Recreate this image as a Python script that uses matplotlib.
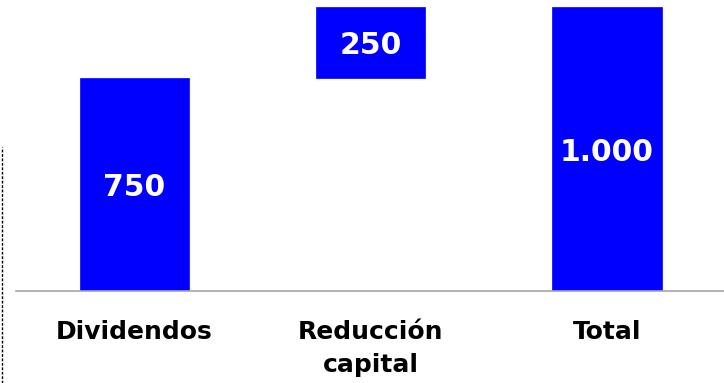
import matplotlib
matplotlib.use("Agg")
import matplotlib.pyplot as plt
from matplotlib.lines import Line2D

# ---- data ----
categories = ["Dividendos", "Reducción\ncapital", "Total"]
values = [750, 250, 1000]
is_total = [False, False, True]

BAR_COLOR = "#0000FF"

# waterfall bottoms
bottoms = []
running = 0
for v, t in zip(values, is_total):
    if t:
        bottoms.append(0)
        running = v
    else:
        bottoms.append(running)
        running += v

plt.rcParams['font.family'] = ['DejaVu Sans']

fig = plt.figure(figsize=(7.24, 3.83), dpi=100)
W, H = 724, 383
ax_left, ax_bottom = 16 / W, (H - 291) / H
ax = fig.add_axes([ax_left, ax_bottom, 1 - ax_left, 291 / H])

x = list(range(len(categories)))
ax.bar(x, values, bottom=bottoms, width=0.462, color=BAR_COLOR, edgecolor=BAR_COLOR,
       linewidth=0.5, zorder=2)

ax.set_xlim(-0.5016, 2.495)
ax.set_ylim(0, 1025)

for s in ["top", "right", "left"]:
    ax.spines[s].set_visible(False)
ax.spines["bottom"].set_color("#a6a6a6")
ax.spines["bottom"].set_linewidth(1.2)
ax.spines["bottom"].set_zorder(3)
ax.set_xticks([])
ax.set_yticks([])

# value labels
for xi, v, b in zip(x, values, bottoms):
    txt = f"{v:,}".replace(",", ".")
    ax.text(xi, b + v / 2, txt, ha="center", va="center_baseline",
            color="white", fontsize=21.5, fontweight="bold", zorder=4)

# category labels (multi-line drawn line by line)
line_offsets = [34.8, 58.1]
for xi, cat in zip(x, categories):
    for li, line in enumerate(cat.split("\n")):
        ax.annotate(line, xy=(xi, 0), xycoords=("data", "axes fraction"),
                    xytext=(0, -line_offsets[li]), textcoords="offset points",
                    ha="center", va="baseline", fontsize=18, fontweight="bold",
                    color="black", annotation_clip=False)

# dashed left border fragment
fig.add_artist(Line2D([1.5 / W, 1.5 / W], [0, (H - 147) / H], transform=fig.transFigure,
                      color="black", linewidth=1.0, linestyle=(0, (2.0, 1.2))))

fig.savefig("out.png", dpi=100)
